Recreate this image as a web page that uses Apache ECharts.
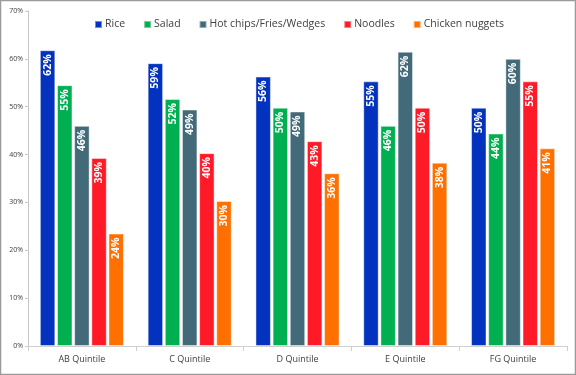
<!DOCTYPE html>
<html>
<head>
<meta charset="utf-8">
<script src="https://cdn.jsdelivr.net/npm/echarts@6/dist/echarts.min.js"></script>
<style>html,body{margin:0;padding:0;background:#fff}#c{width:576px;height:375px}</style>
</head>
<body>
<div id="c"></div>
<script>
var categories = ['AB Quintile', 'C Quintile', 'D Quintile', 'E Quintile', 'FG Quintile'];
var seriesNames = ['Rice', 'Salad', 'Hot chips/Fries/Wedges', 'Noodles', 'Chicken nuggets'];
var rice = [61.8, 59.1, 56.3, 55.3, 49.8];
var salad = [54.5, 51.6, 49.8, 46.0, 44.4];
var hotChips = [46.0, 49.4, 49.0, 61.5, 60.0];
var noodles = [39.3, 40.3, 42.8, 49.8, 55.3];
var nuggets = [23.5, 30.3, 36.1, 38.3, 41.3];
var yTicks = [0, 10, 20, 30, 40, 50, 60, 70];
var colors = ['#0232BE', '#00B050', '#426A78', '#FF1A27', '#FF7000'];

var allData = [rice, salad, hotChips, noodles, nuggets];
var chart = echarts.init(document.getElementById('c'), null, {renderer: 'canvas'});
var font = '"Open Sans", "Noto Sans", sans-serif';
var series = seriesNames.map(function (n, i) {
  return {
    name: n,
    type: 'bar',
    data: allData[i],
    barGap: '11%',
    barCategoryGap: '22%',
    itemStyle: {color: colors[i], borderColor: 'rgba(255,255,255,0.45)', borderWidth: 1},
    label: {
      show: true,
      position: 'insideTop',
      rotate: 90,
      align: 'right',
      verticalAlign: 'middle',
      distance: 4,
      color: '#fff',
      fontWeight: 'bold',
      fontSize: 10.5,
      fontFamily: font,
      formatter: function (p) { return Math.round(p.value) + '%'; }
    }
  };
});
chart.setOption({
  animation: false,
  color: colors,
  graphic: [{type: 'rect', shape: {x: 0.5, y: 0.5, width: 575, height: 374}, style: {fill: 'none', stroke: '#9a9a9a', lineWidth: 1.5}, silent: true}],
  legend: {
    data: seriesNames,
    top: 14,
    left: 89,
    itemWidth: 7,
    itemHeight: 7,
    itemGap: 18,
    icon: 'rect',
    textStyle: {color: '#404040', fontSize: 10.5, fontFamily: font, padding: [0, 0, 0, -2]}
  },
  grid: {left: 28, right: 9, top: 11, bottom: 29, containLabel: false},
  xAxis: {
    type: 'category',
    data: categories,
    axisLine: {lineStyle: {color: '#d0d0d0'}},
    axisTick: {show: true, length: 5, lineStyle: {color: '#d0d0d0'}},
    axisLabel: {color: '#404040', fontSize: 9, fontFamily: font, margin: 9}
  },
  yAxis: {
    type: 'value',
    min: yTicks[0],
    max: yTicks[yTicks.length - 1],
    interval: 10,
    splitLine: {show: false},
    axisLine: {show: true, lineStyle: {color: '#c8c8c8'}},
    axisTick: {show: true, length: 3, lineStyle: {color: '#c8c8c8'}},
    axisLabel: {color: '#404040', fontSize: 7, fontFamily: font, margin: 5, formatter: '{value}%'}
  },
  series: series
});
</script>
</body>
</html>
